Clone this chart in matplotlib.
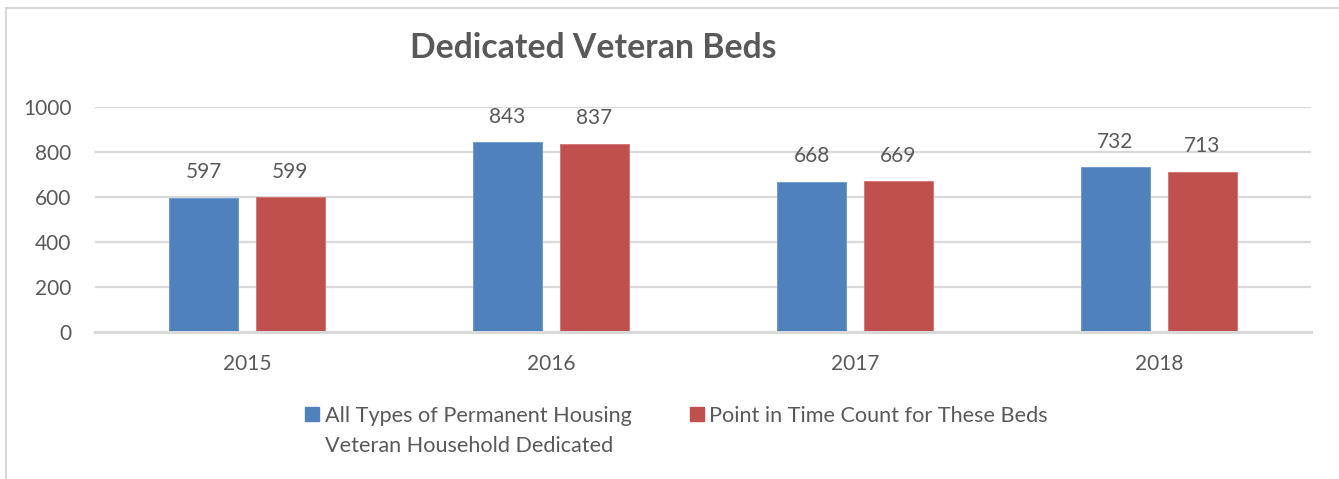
import matplotlib.pyplot as plt
import numpy as np
from matplotlib.patches import Rectangle
from matplotlib.lines import Line2D

years = ["2015", "2016", "2017", "2018"]
all_types = [597, 843, 668, 732]
pit_count = [599, 837, 669, 713]
series_names = ["All Types of Permanent Housing\nVeteran Household Dedicated",
                "Point in Time Count for These Beds"]
yticks = [0, 200, 400, 600, 800, 1000]

BLUE = "#4F81BD"
RED = "#C0504D"
TEXT = "#595959"
GRID = "#D9D9D9"


def main():
    plt.rcParams["font.family"] = ["Lato", "DejaVu Sans"]
    W, H = 1339, 479
    fig = plt.figure(figsize=(W / 100, H / 100), dpi=100)
    ax = fig.add_axes([95 / W, 1 - 332 / H, (1311 - 95) / W, (332 - 107) / H])

    x = np.arange(len(years))
    width = 0.224
    off = 0.143
    b1 = ax.bar(x - off, all_types, width, color=BLUE, edgecolor="#6A96CC", linewidth=0.6, zorder=3)
    b2 = ax.bar(x + off, pit_count, width, color=RED, edgecolor="#D07370", linewidth=0.6, zorder=3)
    for bars in (b1, b2):
        for rect in bars:
            h = rect.get_height()
            ax.annotate(f"{h:.0f}", (rect.get_x() + rect.get_width() / 2, h),
                        xytext=(0, 11), textcoords="offset points",
                        ha="center", va="bottom", fontsize=15, color=TEXT)

    ax.set_xlim(-0.5, len(years) - 0.5)
    ax.set_ylim(0, 1000)
    ax.set_yticks(yticks)
    ax.set_xticks(x)
    ax.set_xticklabels(years)
    ax.tick_params(axis="both", length=0, labelsize=15, labelcolor=TEXT)
    ax.tick_params(axis="y", pad=17)
    ax.tick_params(axis="x", pad=16)
    ax.yaxis.grid(True, color=GRID, linewidth=1.6, zorder=0)
    ax.set_axisbelow(True)
    for s in ["top", "right", "left"]:
        ax.spines[s].set_visible(False)
    ax.spines["bottom"].set_color(GRID)
    ax.spines["bottom"].set_linewidth(2.2)
    ax.spines["bottom"].set_zorder(4)

    fig.text(593 / W, 1 - 48 / H, "Dedicated Veteran Beds", ha="center", va="center",
             fontsize=24.3, fontweight="bold", color=TEXT)

    # legend
    fig.add_artist(Rectangle((305 / W, 1 - 421 / H), 14 / W, 14 / H,
                             transform=fig.transFigure, color=BLUE))
    fig.text(325 / W, 1 - 406 / H, series_names[0], ha="left", va="top",
             fontsize=15.6, color=TEXT, linespacing=1.6, transform=fig.transFigure)
    fig.add_artist(Rectangle((690 / W, 1 - 421 / H), 14 / W, 14 / H,
                             transform=fig.transFigure, color=RED))
    fig.text(709 / W, 1 - 406 / H, series_names[1], ha="left", va="top",
             fontsize=15.6, color=TEXT, transform=fig.transFigure)

    # frame
    fig.add_artist(Line2D([6 / W, 6 / W], [0, 1 - 8 / H], color=GRID, linewidth=1.5,
                          transform=fig.transFigure))
    fig.add_artist(Line2D([6 / W, 1], [1 - 8 / H, 1 - 8 / H], color=GRID, linewidth=1.5,
                          transform=fig.transFigure))

    fig.savefig("out.png", dpi=100)


if __name__ == "__main__":
    main()
